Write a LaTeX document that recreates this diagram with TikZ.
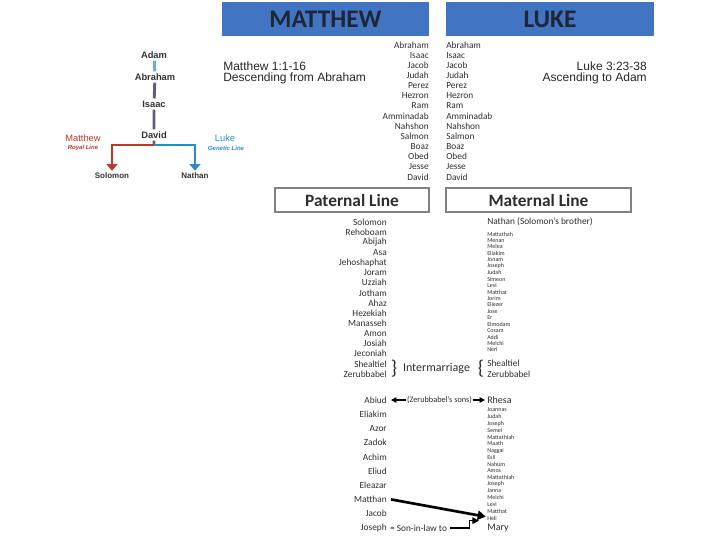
\documentclass[tikz,border=0pt]{standalone}
\usepackage{fontspec}
\setmainfont{Carlito}
\newfontfamily\arialfont{Liberation Sans}
\usetikzlibrary{arrows.meta}
\definecolor{hdrblue}{RGB}{65,117,193}
\definecolor{hdrtext}{RGB}{30,38,56}
\definecolor{royalred}{RGB}{190,55,45}
\definecolor{geneblue}{RGB}{40,140,200}
\definecolor{stemgray}{RGB}{95,95,115}
\definecolor{boxgray}{RGB}{128,128,128}
\definecolor{nametext}{RGB}{45,45,45}
\begin{document}
\begin{tikzpicture}[x=0.75pt,y=-0.75pt,
    hdr/.style={fill=hdrblue,text=hdrtext,minimum height=25.5pt,inner sep=0pt,font=\bfseries\fontsize{19}{19}\selectfont},
    linebox/.style={draw=boxgray,line width=0.8pt,minimum height=18pt,inner sep=0pt,text=nametext,font=\bfseries\fontsize{13}{13}\selectfont},
    nm/.style={inner sep=0pt,text=nametext,font=\fontsize{7}{7}\selectfont},
    smnm/.style={inner sep=0pt,anchor=west,text=nametext,font=\fontsize{4.5}{4.5}\selectfont},
    fig/.style={inner sep=1.5pt,text=black!80,font=\arialfont\bfseries\fontsize{7}{7}\selectfont},
    refline/.style={inner sep=0pt,text=black!85,font=\arialfont\fontsize{9}{9}\selectfont}]
  \useasboundingbox (0,0) rectangle (720,540);

  % Headers
  \node[hdr,minimum width=155pt] (matthew) at (325.5,19) {MATTHEW};
  \node[hdr,minimum width=156pt] (luke) at (550,19) {LUKE};

  % References
  \node[refline,anchor=west] (mref) at (223,66) {Matthew 1:1-16};
  \node[refline,anchor=west] (mdesc) at (223,78) {Descending from Abraham};
  \node[refline,anchor=east] (lref) at (647,66) {Luke 3:23-38};
  \node[refline,anchor=east] (ldesc) at (647,78) {Ascending to Adam};

  % Small tree on the left
  \node[fig] (adam) at (154,55) {Adam};
  \node[fig] (abraham) at (155,77) {Abraham};
  \node[fig] (isaac) at (154,104) {Isaac};
  \node[fig] (david) at (154,135) {David};
  \node[fig,font=\arialfont\bfseries\fontsize{6}{6}\selectfont] (solomon) at (112,176) {Solomon};
  \node[fig,font=\arialfont\bfseries\fontsize{6}{6}\selectfont] (nathan) at (195,176) {Nathan};
  \coordinate (fork) at (154,145);
  \draw[line width=2.2pt,geneblue!70] (adam) -- (abraham);
  \draw[line width=2.2pt,stemgray] (abraham) -- (isaac) -- (david) -- (fork);
  \draw[line width=1.5pt,royalred,-{Triangle[width=8pt,length=5pt]}] (fork) -| (solomon);
  \draw[line width=1.5pt,geneblue,-{Triangle[width=8pt,length=5pt]}] (fork) -| (nathan);
  \node[inner sep=0pt,text=royalred,font=\arialfont\fontsize{7}{7}\selectfont] (mattlbl) at (83,138) {Matthew};
  \node[inner sep=0pt,text=royalred,font=\arialfont\bfseries\itshape\fontsize{4.5}{4.5}\selectfont] (royal) at (83,148) {Royal Line};
  \node[inner sep=0pt,text=geneblue,font=\arialfont\fontsize{7}{7}\selectfont] (lukelbl) at (225,138) {Luke};
  \node[inner sep=0pt,text=geneblue,font=\arialfont\bfseries\itshape\fontsize{4.5}{4.5}\selectfont] (genetic) at (226,148) {Genetic Line};

  % Abraham to David, both gospels
  \foreach \n [count=\i] in {Abraham,Isaac,Jacob,Judah,Perez,Hezron,Ram,Amminadab,Nahshon,Salmon,Boaz,Obed,Jesse,David} {
    \node[nm,anchor=east] (ma\i) at (429,{45+10.15*(\i-1)}) {\n};
    \node[nm,anchor=west] (lu\i) at (446,{45+10.15*(\i-1)}) {\n};
  }

  % Line boxes
  \node[linebox,minimum width=115.5pt] (paternal) at (352,200) {Paternal Line};
  \node[linebox,minimum width=138.75pt] (maternal) at (538.5,200) {Maternal Line};

  % Paternal line, Solomon to Zerubbabel
  \foreach \n [count=\i] in {Solomon,Rehoboam,Abijah,Asa,Jehoshaphat,Joram,Uzziah,Jotham,Ahaz,Hezekiah,Manasseh,Amon,Josiah,Jeconiah,Shealtiel,Zerubbabel}
    \node[nm,anchor=east] (pa\i) at (387,{222+10.13*(\i-1)}) {\n};

  % Maternal line, Nathan to Neri
  \node[nm,anchor=west] (mnathan) at (487,222) {Nathan (Solomon's brother)};
  \foreach \n [count=\i] in {Mattathah,Menan,Melea,Eliakim,Jonam,Joseph,Judah,Simeon,Levi,Matthat,Jorim,Eliezer,Jose,Er,Elmodam,Cosam,Addi,Melchi,Neri}
    \node[smnm] (mt\i) at (487,{234+6.44*(\i-1)}) {\n};

  % Intermarriage
  \node[nm,anchor=west] (mshealtiel) at (487,363) {Shealtiel};
  \node[nm,anchor=west] (mzerub) at (487,374) {Zerubbabel};
  \node[inner sep=0pt,text=nametext,font=\fontsize{15}{15}\selectfont] (lbrace) at (394,369) {\}};
  \node[inner sep=0pt,text=nametext,font=\fontsize{9}{9}\selectfont] (inter) at (436.5,368) {Intermarriage};
  \node[inner sep=0pt,text=nametext,font=\fontsize{15}{15}\selectfont] (rbrace) at (481,369) {\{};

  % Paternal line, Abiud to Joseph
  \foreach \n [count=\i] in {Abiud,Eliakim,Azor,Zadok,Achim,Eliud,Eleazar,Matthan,Jacob,Joseph}
    \node[nm,anchor=east] (pb\i) at (387,{400+14.2*(\i-1)}) {\n};

  % Maternal line, Rhesa to Mary
  \node[nm,anchor=west,font=\fontsize{7.5}{7.5}\selectfont] (rhesa) at (487,400) {Rhesa};
  \foreach \n [count=\i] in {Joannas,Judah,Joseph,Semei,Mattathiah,Maath,Naggai,Esli,Nahum,Amos,Mattathiah,Joseph,Janna,Melchi,Levi,Matthat,Heli}
    \node[smnm] (mb\i) at (487,{410+6.75*(\i-1)}) {\n};
  \node[nm,anchor=west,font=\fontsize{7.5}{7.5}\selectfont] (mary) at (487,528) {Mary};

  % Sons of Zerubbabel
  \node[nm,font=\fontsize{6.2}{6.2}\selectfont] (zsons) at (439.5,400) {(Zerubbabel's sons)};
  \draw[line width=0.8pt,-{Triangle[width=4pt,length=4pt]}] ([xshift=-0.5pt]zsons.west) -- ([xshift=3pt]pb1.east);
  \draw[line width=0.8pt,-{Triangle[width=4pt,length=4pt]}] ([xshift=0.5pt]zsons.east) -- ([xshift=-1.5pt]rhesa.west);

  % Matthan to Heli
  \draw[line width=2pt,-{Triangle[width=7pt,length=6pt]}] ([xshift=3pt]pb8.east) -- ([xshift=-1pt,yshift=1pt]mb17.west);

  % Joseph, son-in-law to Heli
  \node[nm] (sil) at (418.5,528) {= Son-in-law to};
  \draw[line width=0.8pt,-{Triangle[width=5pt,length=5pt]}] ([xshift=2pt]sil.east) -- ++(20,0) |- ([xshift=-6pt,yshift=-2pt]mb17.west);
\end{tikzpicture}
\end{document}
